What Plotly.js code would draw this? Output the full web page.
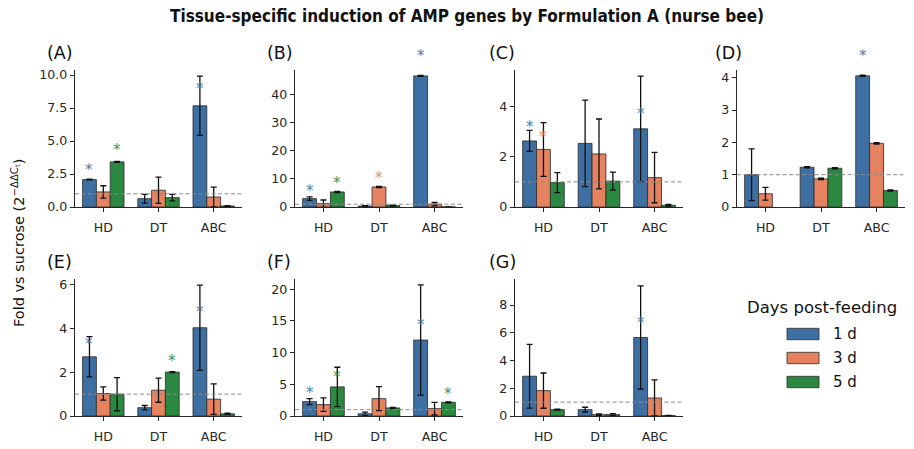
<!DOCTYPE html>
<html>
<head>
<meta charset="utf-8">
<script src="https://cdn.plot.ly/plotly-3.0.1.min.js"></script>
<style>html,body{margin:0;padding:0;background:#fff}</style>
</head>
<body>
<div id="chart" style="width:914px;height:449px"></div>
<script>
// Tissues on the x axis and sampling days (one bar per day)
const categories = ['HD', 'DT', 'ABC'];
const days = ['1 d', '3 d', '5 d'];
const dayColors = ['#3E6FA3', '#E5825F', '#2B8840'];
const baseline = 1;   // sucrose control level

// Rows = day (1 d, 3 d, 5 d); columns = tissue (HD, DT, ABC)
const meansA = [[2.08, 0.63, 7.67], [1.14, 1.27, 0.76], [3.42, 0.71, 0.08]];
const errsA  = [[0.03, 0.33, 2.25], [0.47, 1.00, 0.75], [0.04, 0.25, 0.03]];
const sigA   = [[1, 0, 1], [0, 0, 0], [1, 0, 0]];

const meansB = [[2.99, 0.35, 46.8], [1.20, 7.16, 1.00], [5.37, 0.50, 0.05]];
const errsB  = [[0.60, 0.15, 0.20], [1.30, 0.20, 0.60], [0.20, 0.15, 0.02]];
const sigB   = [[1, 0, 1], [0, 1, 0], [1, 0, 0]];

const meansC = [[2.63, 2.53, 3.11], [2.29, 2.11, 1.17], [0.97, 1.03, 0.07]];
const errsC  = [[0.42, 1.72, 2.10], [1.07, 1.39, 1.00], [0.40, 0.36, 0.03]];
const sigC   = [[1, 0, 1], [1, 0, 0], [0, 0, 0]];

const meansD = [[1.00, 1.23, 4.06], [0.41, 0.87, 1.97], [null, 1.20, 0.51]];
const errsD  = [[0.80, 0.02, 0.02], [0.20, 0.02, 0.02], [null, 0.02, 0.02]];
const sigD   = [[0, 0, 1], [0, 0, 0], [0, 0, 0]];

const meansE = [[2.71, 0.38, 4.04], [1.03, 1.18, 0.77], [1.00, 2.01, 0.10]];
const errsE  = [[0.92, 0.10, 1.95], [0.30, 0.55, 0.70], [0.76, 0.02, 0.03]];
const sigE   = [[1, 0, 1], [0, 0, 0], [0, 1, 0]];

const meansF = [[2.27, 0.35, 11.98], [1.80, 2.74, 1.16], [4.59, 1.27, 2.16]];
const errsF  = [[0.48, 0.25, 8.70], [1.07, 1.90, 1.00], [3.10, 0.10, 0.08]];
const sigF   = [[1, 0, 1], [0, 0, 0], [1, 0, 1]];

const meansG = [[2.87, 0.46, 5.66], [1.83, 0.10, 1.30], [0.46, 0.10, 0.03]];
const errsG  = [[2.30, 0.17, 3.73], [1.27, 0.05, 1.30], [0.03, 0.07, 0.01]];
const sigG   = [[0, 0, 1], [0, 0, 0], [0, 0, 0]];

// y-axis tick values per panel
const yTicksA = [0, 2.5, 5, 7.5, 10];
const yTicksB = [0, 10, 20, 30, 40];
const yTicksC = [0, 2, 4];
const yTicksD = [0, 1, 2, 3, 4];
const yTicksE = [0, 2, 4, 6];
const yTicksF = [0, 5, 10, 15, 20];
const yTicksG = [0, 2, 4, 6, 8];

const panelLabels = ['(A)', '(B)', '(C)', '(D)', '(E)', '(F)', '(G)'];
const legendTitle = 'Days post-feeding';
const chartTitle = 'Tissue-specific induction of AMP genes by Formulation A (nurse bee)';
const yTitle = 'Fold vs sucrose (2<sup>\u2212\u0394\u0394C<sub>t</sub></sup>)';

// ---- layout geometry (pixels of a 914 x 449 canvas) ----
const W = 914, H = 449;
const px = x => x / W;
const py = y => 1 - y / H;
const colPx = [[75, 242], [295, 463], [515, 683], [737, 905]];
const rowPx = [[70, 207], [279, 416]];
const labelPx = [[45, 53], [265, 53], [487, 53], [713, 53], [45, 262], [265, 262], [487, 262]];

const panels = [
  {means: meansA, errs: errsA, sig: sigA, ticks: yTicksA, ymax: 10.38, fmt: '.1f', col: 0, row: 0},
  {means: meansB, errs: errsB, sig: sigB, ticks: yTicksB, ymax: 48.9, fmt: '', col: 1, row: 0},
  {means: meansC, errs: errsC, sig: sigC, ticks: yTicksC, ymax: 5.45, fmt: '', col: 2, row: 0},
  {means: meansD, errs: errsD, sig: sigD, ticks: yTicksD, ymax: 4.24, fmt: '', col: 3, row: 0},
  {means: meansE, errs: errsE, sig: sigE, ticks: yTicksE, ymax: 6.27, fmt: '', col: 0, row: 1},
  {means: meansF, errs: errsF, sig: sigF, ticks: yTicksF, ymax: 21.6, fmt: '', col: 1, row: 1},
  {means: meansG, errs: errsG, sig: sigG, ticks: yTicksG, ymax: 9.88, fmt: '', col: 2, row: 1}
];

const font = 'DejaVu Sans, Liberation Sans, sans-serif';
const ink = '#262626';
const barWidth = 0.25;
const catPos = categories.map((_, i) => i);

const traces = [];
const annotations = [];
const shapes = [];
const layout = {
  width: W, height: H,
  margin: {l: 0, r: 0, t: 0, b: 0},
  paper_bgcolor: '#ffffff', plot_bgcolor: '#ffffff',
  barmode: 'group', bargap: 0.25, bargroupgap: 0,
  showlegend: false,
  font: {family: font, color: ink},
  title: {
    text: '<b>' + chartTitle + '</b>',
    x: px(467), xanchor: 'center', y: py(16), yanchor: 'middle',
    font: {family: 'DejaVu Sans Condensed, DejaVu Sans, sans-serif', size: 17, color: '#111'}
  }
};

panels.forEach((p, i) => {
  const n = i === 0 ? '' : String(i + 1);
  const xa = 'x' + n, ya = 'y' + n;
  const [x0, x1] = colPx[p.col];
  const [y0, y1] = rowPx[p.row];

  layout['xaxis' + n] = {
    domain: [px(x0), px(x1)], anchor: ya,
    type: 'linear', tickvals: catPos, ticktext: categories,
    range: [-0.5125, 2.5125],
    showline: true, linecolor: ink, linewidth: 1.2,
    ticks: 'outside', ticklen: 4, tickwidth: 1, tickcolor: ink,
    ticklabelstandoff: 5,
    showgrid: false, zeroline: false, fixedrange: true,
    tickfont: {family: font, size: 12.6, color: ink}
  };
  layout['yaxis' + n] = {
    domain: [py(y1), py(y0)], anchor: xa,
    range: [0, p.ymax],
    tickvals: p.ticks, tickformat: p.fmt,
    showline: true, linecolor: ink, linewidth: 1.2,
    ticks: 'outside', ticklen: 4, tickwidth: 1, tickcolor: ink,
    showgrid: false, zeroline: false, fixedrange: true,
    tickfont: {family: font, size: 12.6, color: ink}
  };

  days.forEach((d, k) => {
    traces.push({
      type: 'bar', name: d, x: catPos, y: p.means[k],
      xaxis: xa, yaxis: ya,
      marker: {color: dayColors[k], line: {color: '#2a2a2a', width: 0.8}},
      error_y: {type: 'data', array: p.errs[k], visible: true, color: '#111', thickness: 1.3, width: 3},
      hoverinfo: 'skip'
    });

    // significance asterisks sit 10% above the flagged bar's mean;
    // the y reference is the axis domain so marks above the top stay visible
    p.sig[k].forEach((s, c) => {
      if (!s) return;
      annotations.push({
        xref: xa, yref: ya + ' domain',
        x: c + (k - 1) * barWidth, y: p.means[k][c] * 1.1 / p.ymax,
        text: '*', showarrow: false, yanchor: 'bottom', yshift: -4,
        font: {family: font, size: 15, color: dayColors[k]}, opacity: 0.9
      });
    });
  });

  // dashed reference line at the sucrose level
  shapes.push({
    type: 'line', xref: xa + ' domain', yref: ya,
    x0: 0, x1: 1, y0: baseline, y1: baseline,
    line: {color: '#8c8c8c', width: 1, dash: '4px,2.5px'}
  });

  annotations.push({
    xref: 'paper', yref: 'paper', x: px(labelPx[i][0]), y: py(labelPx[i][1]),
    xanchor: 'left', yanchor: 'middle', showarrow: false,
    text: panelLabels[i], font: {family: font, size: 17.5, color: '#111'}
  });
});

// shared y-axis title
annotations.push({
  xref: 'paper', yref: 'paper', x: px(18), y: py(243),
  xanchor: 'center', yanchor: 'middle', textangle: -90, showarrow: false,
  text: yTitle, font: {family: font, size: 14.5, color: '#111'}
});

// legend for the sampling days
annotations.push({
  xref: 'paper', yref: 'paper', x: px(822), y: py(307),
  xanchor: 'center', yanchor: 'middle', showarrow: false,
  text: legendTitle, font: {family: font, size: 16.5, color: '#111'}
});
days.forEach((d, k) => {
  const cy = 334 + k * 24;
  shapes.push({
    type: 'rect', xref: 'paper', yref: 'paper',
    x0: px(787), x1: px(819), y0: py(cy + 5.7), y1: py(cy - 5.7),
    fillcolor: dayColors[k], line: {color: '#2a2a2a', width: 0.8}
  });
  annotations.push({
    xref: 'paper', yref: 'paper', x: px(831), y: py(cy),
    xanchor: 'left', yanchor: 'middle', showarrow: false,
    text: d, font: {family: font, size: 15, color: '#111'}
  });
});

layout.annotations = annotations;
layout.shapes = shapes;

Plotly.newPlot('chart', traces, layout, {staticPlot: true, displayModeBar: false});
</script>
</body>
</html>
